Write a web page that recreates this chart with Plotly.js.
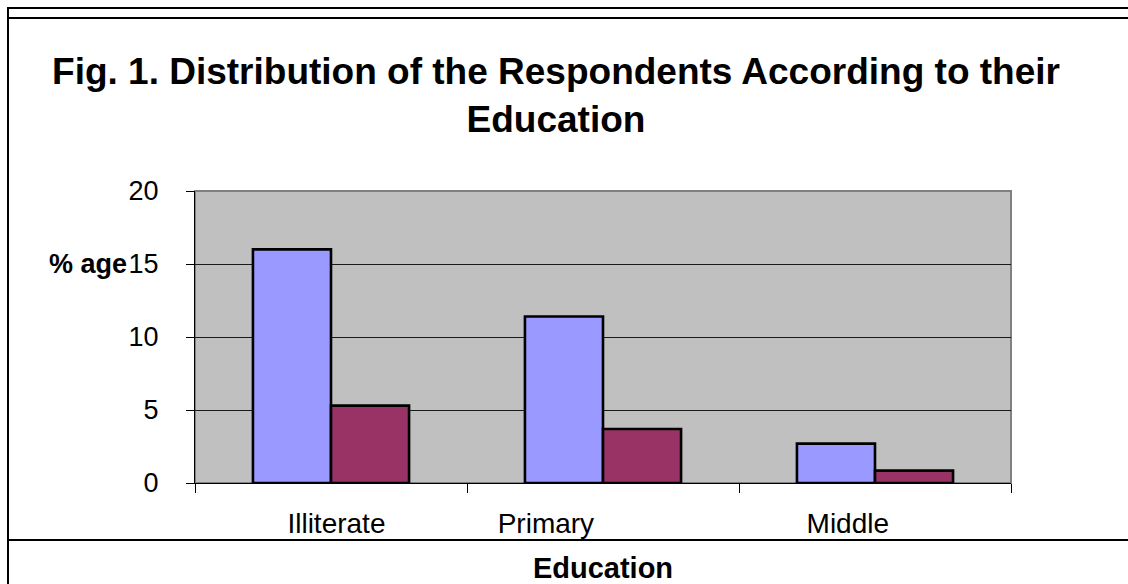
<!DOCTYPE html>
<html>
<head>
<meta charset="utf-8">
<script src="https://cdn.plot.ly/plotly-3.0.1.min.js"></script>
<style>
html,body{margin:0;padding:0;background:#fff;}
#chart{width:1128px;height:584px;}
</style>
</head>
<body>
<div id="chart"></div>
<script>
// Data
var categories = ['Illiterate', 'Primary', 'Middle'];
var seriesA = [16.0, 11.4, 2.7];   // light blue bars
var seriesB = [5.3, 3.7, 0.85];    // maroon bars
var yTicks = [0, 5, 10, 15, 20];
var titleText = 'Fig. 1. Distribution of the Respondents According to their<br>Education';
var yLabel = '% age';
var xLabel = 'Education';

var FONT = 'Liberation Sans, Arial, sans-serif';
var xs = categories.map(function (c, i) { return i; });

// plot area geometry (pixels)
var L = 195, R = 1011, T = 191, B = 483, W = 1128, H = 584;
function px(p) { return (p - L) / (R - L); }
function py(p) { return (B - p) / (B - T); }

var traces = [
  {type: 'bar', x: xs, y: seriesA, name: 'A', xaxis: 'x', yaxis: 'y',
   marker: {color: '#9999FF', line: {color: '#000000', width: 2.6}}, hoverinfo: 'y'},
  {type: 'bar', x: xs, y: seriesB, name: 'B', xaxis: 'x', yaxis: 'y',
   marker: {color: '#993366', line: {color: '#000000', width: 2.6}}, hoverinfo: 'y'},
  // invisible trace to activate the label axis
  {type: 'scatter', x: [0], y: [0], xaxis: 'x2', yaxis: 'y', mode: 'markers',
   marker: {opacity: 0}, hoverinfo: 'skip', showlegend: false}
];

var layout = {
  width: W, height: H,
  margin: {l: L, r: W - R, t: T, b: H - B, pad: 0},
  paper_bgcolor: '#ffffff',
  plot_bgcolor: '#C0C0C0',
  showlegend: false,
  barmode: 'group',
  bargap: 0.426,
  bargroupgap: 0,
  font: {family: FONT, color: '#000000'},
  title: {
    text: titleText,
    font: {family: FONT, size: 37, color: '#000000', weight: 'bold'},
    xref: 'container', yref: 'container',
    x: 556 / W, xanchor: 'center',
    y: 1 - 84 / H, yanchor: 'middle'
  },
  xaxis: {
    range: [-0.5, 2.5], fixedrange: true,
    tickmode: 'array', tickvals: [-0.5, 0.5, 1.5, 2.5],
    showticklabels: false,
    ticks: 'outside', ticklen: 9, tickwidth: 1, tickcolor: '#000000',
    showline: true, linecolor: '#000000', linewidth: 1,
    showgrid: false, zeroline: false,
    title: {text: '<b>' + xLabel + '</b>', font: {family: FONT, size: 29, color: '#000000'}, standoff: 68}
  },
  xaxis2: {
    overlaying: 'x', anchor: 'y', side: 'bottom',
    range: [-0.5, 2.5], fixedrange: true,
    tickmode: 'array', tickvals: [0.02, 0.79, 1.9], ticktext: categories,
    ticks: '', showline: false, showgrid: false, zeroline: false,
    tickfont: {family: FONT, size: 28, color: '#000000'},
    ticklabelstandoff: 21
  },
  yaxis: {
    range: [0, 20], fixedrange: true,
    tickmode: 'array', tickvals: yTicks,
    ticks: 'outside', ticklen: 8, tickwidth: 1, tickcolor: '#000000',
    tickfont: {family: FONT, size: 27, color: '#000000'},
    ticklabelstandoff: 22,
    showline: true, linecolor: '#000000', linewidth: 1,
    showgrid: true, gridcolor: '#1a1a1a', gridwidth: 1,
    zeroline: false
  },
  annotations: [
    {text: '<b>' + yLabel + '</b>', xref: 'paper', yref: 'y', x: px(47), y: 15,
     xanchor: 'left', yanchor: 'middle', showarrow: false,
     font: {family: FONT, size: 27, color: '#000000'}}
  ],
  shapes: [
    // plot area border (gray)
    {type: 'rect', xref: 'paper', yref: 'paper', x0: 0, x1: 1, y0: 0, y1: 1,
     line: {color: '#808080', width: 2}, layer: 'below'},
    // outer frame
    {type: 'line', xref: 'paper', yref: 'paper', x0: px(8), x1: px(W + 5), y0: py(8), y1: py(8),
     line: {color: '#000000', width: 2}},
    {type: 'line', xref: 'paper', yref: 'paper', x0: px(8), x1: px(W + 5), y0: py(18), y1: py(18),
     line: {color: '#000000', width: 2}},
    {type: 'line', xref: 'paper', yref: 'paper', x0: px(8), x1: px(8), y0: py(7), y1: py(H + 5),
     line: {color: '#000000', width: 2}},
    {type: 'line', xref: 'paper', yref: 'paper', x0: px(8), x1: px(W + 5), y0: py(540), y1: py(540),
     line: {color: '#000000', width: 2}}
  ]
};

Plotly.newPlot('chart', traces, layout, {displayModeBar: false, staticPlot: true});
</script>
</body>
</html>
